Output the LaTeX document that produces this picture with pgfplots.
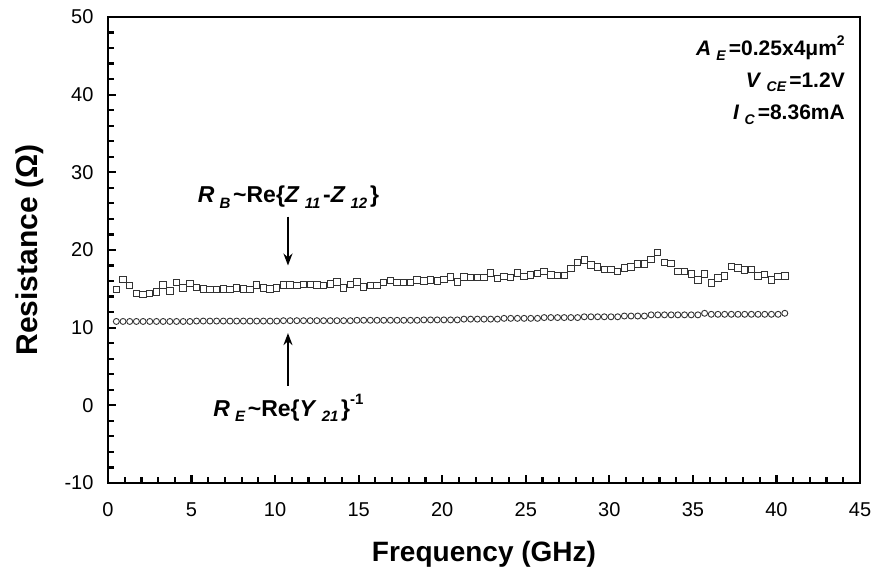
\documentclass[border=0pt]{standalone}
\usepackage{fontspec}
\setmainfont{Liberation Sans}
\usepackage{pgfplots}
\usepackage{pgfplotstable}
\pgfplotsset{compat=1.18}
\usetikzlibrary{arrows.meta}

\newcommand{\sbi}[1]{\hspace{0.22em}\raisebox{-0.45ex}{\fontsize{15}{15}\selectfont\bfseries\itshape #1}\hspace{0.12em}}
\newcommand{\sbs}[1]{\hspace{0.25em}\raisebox{-0.45ex}{\fontsize{14}{14}\selectfont\bfseries\itshape #1}\hspace{0.15em}}

\pgfplotstableread{
f     rb     re
0.5   14.9   10.80
0.9   16.2   10.80
1.3   15.4   10.80
1.7   14.4   10.80
2.1   14.3   10.80
2.5   14.4   10.80
2.9   14.6   10.80
3.3   15.5   10.80
3.7   14.7   10.80
4.1   15.8   10.80
4.5   15.1   10.80
4.9   15.7   10.80
5.3   15.2   10.85
5.7   15.0   10.85
6.1   14.9   10.85
6.5   14.9   10.85
6.9   15.0   10.85
7.3   14.9   10.85
7.7   15.1   10.85
8.1   15.0   10.85
8.5   14.9   10.85
8.9   15.5   10.85
9.3   15.1   10.85
9.7   15.0   10.85
10.1  15.1   10.85
10.5  15.5   10.90
10.9  15.5   10.90
11.3  15.4   10.90
11.7  15.55  10.90
12.1  15.55  10.90
12.5  15.5   10.90
12.9  15.4   10.90
13.3  15.6   10.90
13.7  15.9   10.90
14.1  15.1   10.90
14.5  15.55  10.90
14.9  15.9   10.95
15.3  15.25  10.95
15.7  15.4   10.95
16.1  15.4   10.95
16.5  15.8   10.95
16.9  16.1   10.95
17.3  15.8   10.95
17.7  15.8   10.95
18.1  15.8   10.95
18.5  16.15  10.95
18.9  16.0   11.00
19.3  16.15  11.00
19.7  16.0   11.00
20.1  16.2   11.00
20.5  16.5   11.00
20.9  15.9   11.00
21.3  16.5   11.10
21.7  16.45  11.10
22.1  16.45  11.10
22.5  16.45  11.10
22.9  17.05  11.10
23.3  16.3   11.10
23.7  16.55  11.20
24.1  16.45  11.20
24.5  17.05  11.20
24.9  16.55  11.20
25.3  16.8   11.20
25.7  16.95  11.20
26.1  17.2   11.30
26.5  16.8   11.30
26.9  16.75  11.30
27.3  16.75  11.30
27.7  17.6   11.30
28.1  18.4   11.30
28.5  18.7   11.40
28.9  18.05  11.40
29.3  17.8   11.40
29.7  17.5   11.40
30.1  17.5   11.40
30.5  17.25  11.40
30.9  17.7   11.50
31.3  17.8   11.50
31.7  18.2   11.50
32.1  18.2   11.50
32.5  18.75  11.65
32.9  19.65  11.65
33.3  18.4   11.65
33.7  18.3   11.65
34.1  17.2   11.65
34.5  17.2   11.65
34.9  16.9   11.65
35.3  16.15  11.65
35.7  16.9   11.85
36.1  15.75  11.72
36.5  16.4   11.72
36.9  16.65  11.72
37.3  17.9   11.72
37.7  17.7   11.72
38.1  17.4   11.72
38.5  17.5   11.72
38.9  16.65  11.72
39.3  16.85  11.72
39.7  16.15  11.72
40.1  16.55  11.72
40.5  16.65  11.85
}\datatable

\begin{document}
\begin{tikzpicture}
\path[use as bounding box] (-108pt,-97pt) rectangle (772pt,483pt);
\begin{axis}[
  at={(0pt,0pt)}, anchor=south west,
  scale only axis, width=752pt, height=466pt,
  xmin=0, xmax=45, ymin=-10, ymax=50,
  xtick={0,5,...,45}, ytick={-10,0,...,50},
  minor x tick num=4, minor y tick num=4,
  tick align=inside, xtick pos=bottom, ytick pos=left,
  major tick length=8pt, minor tick length=6pt,
  every tick/.style={black, line width=2.2pt},
  axis line style={line width=2.8pt},
  tick label style={font=\fontsize{20}{20}\selectfont},
  /pgf/number format/assume math mode=true,
  xticklabel style={yshift=-16pt},
  yticklabel style={xshift=-11pt},
  xlabel={Frequency (GHz)},
  ylabel={Resistance (Ω)},
  xlabel style={font=\fontsize{28}{28}\selectfont\bfseries,
    at={(axis description cs:0.5,-0.152)}, anchor=center},
  ylabel style={font=\fontsize{30}{30}\selectfont\bfseries,
    at={(axis description cs:-0.1037,0.5)}, anchor=center},
  clip=false,
]
\addplot[only marks, mark=square, mark size=3.2pt,
  mark options={draw=black!80, line width=1pt, fill=white}]
  table[x=f, y=rb] {\datatable};
\addplot[only marks, mark=o, mark size=3pt,
  mark options={draw=black!80, line width=0.9pt, fill=white}]
  table[x=f, y=re] {\datatable};

\draw[line width=2pt, -{Stealth[length=12pt, width=9pt]}] (axis cs:10.77,24.3) -- (axis cs:10.77,18.0);
\draw[line width=2pt, -{Stealth[length=12pt, width=9pt]}] (axis cs:10.77,2.5) -- (axis cs:10.77,9.3);

\node[anchor=center, font=\fontsize{23}{23}\selectfont\bfseries] at (axis cs:10.8,26.8)
  {\textit{R}\sbi{B}\textasciitilde Re\{\textit{Z}\sbi{11}-\textit{Z}\sbi{12}\}};
\node[anchor=center, font=\fontsize{23}{23}\selectfont\bfseries] at (axis cs:10.8,-0.3)
  {\textit{R}\sbi{E}\textasciitilde Re\{\textit{Y}\sbi{21}\}\raisebox{1.0ex}{\fontsize{15}{15}\selectfont\bfseries -1}};

\node[anchor=east, font=\fontsize{21}{21}\selectfont\bfseries] at (axis cs:44.3,46.0)
  {\textit{A}\sbs{E}=0.25x4μm\raisebox{0.9ex}{\fontsize{14}{14}\selectfont\bfseries 2}};
\node[anchor=east, font=\fontsize{21}{21}\selectfont\bfseries] at (axis cs:44.3,41.6)
  {\textit{V}\sbs{CE}=1.2V};
\node[anchor=east, font=\fontsize{21}{21}\selectfont\bfseries] at (axis cs:44.3,37.4)
  {\textit{I}\sbs{C}=8.36mA};
\end{axis}
\end{tikzpicture}
\end{document}
